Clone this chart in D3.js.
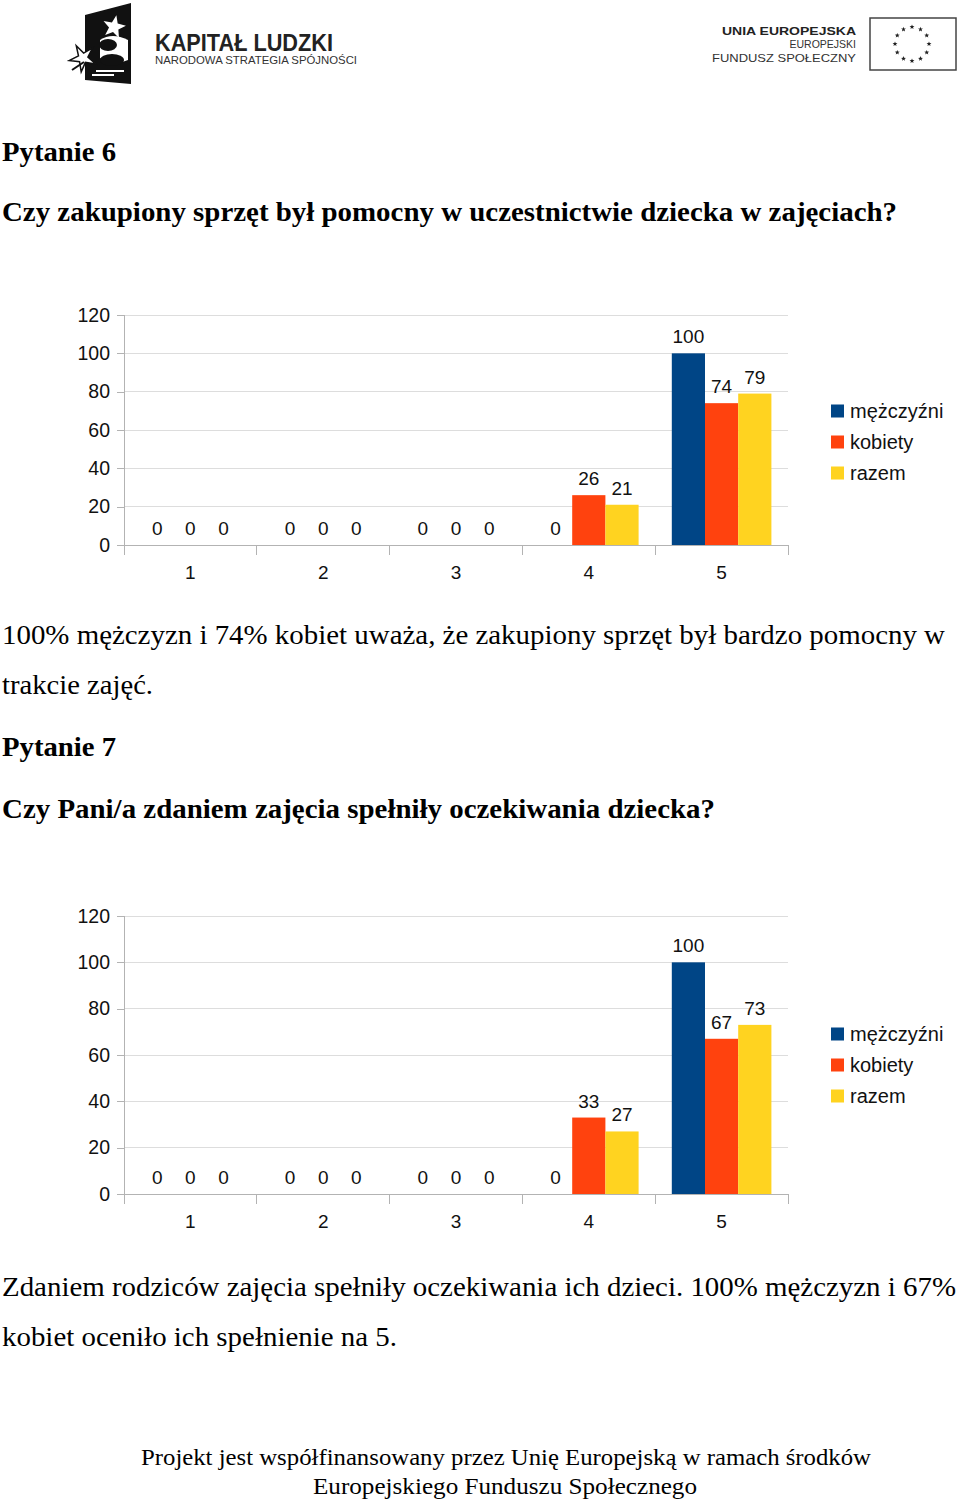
<!DOCTYPE html>
<html><head><meta charset="utf-8">
<script src="https://cdn.jsdelivr.net/npm/d3@7"></script>
<style>
html,body{margin:0;padding:0;background:#fff;}
svg{display:block;}
</style></head>
<body>
<svg id="page" width="960" height="1500"></svg>
<script>
// ---- data ----
const categories = ["1", "2", "3", "4", "5"];
const seriesNames = ["mężczyźni", "kobiety", "razem"];
const seriesColors = ["#004586", "#ff420e", "#ffd320"];
const yTicks = [0, 20, 40, 60, 80, 100, 120];

const q6Men   = [0, 0, 0, 0, 100];
const q6Women = [0, 0, 0, 26, 74];
const q6Total = [0, 0, 0, 21, 79];

const q7Men   = [0, 0, 0, 0, 100];
const q7Women = [0, 0, 0, 33, 67];
const q7Total = [0, 0, 0, 27, 73];

const texts = {
  q6title: "Pytanie 6",
  q6question: "Czy zakupiony sprzęt był pomocny w uczestnictwie dziecka w zajęciach?",
  q6body1: "100% mężczyzn i 74% kobiet uważa, że zakupiony sprzęt był bardzo pomocny w",
  q6body2: "trakcie zajęć.",
  q7title: "Pytanie 7",
  q7question: "Czy Pani/a zdaniem zajęcia spełniły oczekiwania dziecka?",
  q7body1: "Zdaniem rodziców zajęcia spełniły oczekiwania ich dzieci. 100% mężczyzn i 67%",
  q7body2: "kobiet oceniło ich spełnienie na 5.",
  foot1: "Projekt jest współfinansowany przez Unię Europejską w ramach środków",
  foot2: "Europejskiego Funduszu  Społecznego"
};

const svg = d3.select("#page");
const SERIF = "'Liberation Serif', 'Times New Roman', serif";
const SANS = "'Liberation Sans', Arial, sans-serif";

// ---- header logos ----
const logo = svg.append("g");
logo.append("path").attr("d", "M85,15 L131,3 L131,84 L85,80 Z").attr("fill", "#111");
function starPath(cx, cy, R, r, rot) {
  const pts = [];
  for (let i = 0; i < 10; i++) {
    const a = rot + i * Math.PI / 5;
    const rr = i % 2 === 0 ? R : r;
    pts.push([cx + rr * Math.sin(a), cy - rr * Math.cos(a)]);
  }
  return "M" + pts.map(p => p.join(",")).join("L") + "Z";
}
logo.append("path").attr("d", starPath(114, 27, 12, 5, 0.2)).attr("fill", "#fff");
logo.append("path").attr("d", "M100,40 Q112,32 128,40 L128,60 Q115,66 100,58 Z").attr("fill", "#fff");
logo.append("ellipse").attr("cx", 108).attr("cy", 45).attr("rx", 9).attr("ry", 6).attr("fill", "#111");
logo.append("ellipse").attr("cx", 112).attr("cy", 60).attr("rx", 12).attr("ry", 6).attr("fill", "#111");
logo.append("path").attr("d", starPath(83, 58, 14, 5, -0.5)).attr("fill", "#fff").attr("stroke", "#111").attr("stroke-width", 1.5);
logo.append("path").attr("d", "M72,70 L84,62").attr("stroke", "#111").attr("stroke-width", 2);
logo.append("rect").attr("x", 96).attr("y", 70).attr("width", 28).attr("height", 2).attr("fill", "#fff");
logo.append("rect").attr("x", 92).attr("y", 74).attr("width", 22).attr("height", 2).attr("fill", "#fff");
logo.append("text").attr("x", 155).attr("y", 51).text("KAPITAŁ LUDZKI")
  .attr("font-family", SANS).attr("font-weight", "bold").attr("font-size", 24)
  .attr("fill", "#222").attr("textLength", 178).attr("lengthAdjust", "spacingAndGlyphs");
logo.append("text").attr("x", 155).attr("y", 64).text("NARODOWA STRATEGIA SPÓJNOŚCI")
  .attr("font-family", SANS).attr("font-size", 11.5)
  .attr("fill", "#333").attr("textLength", 202).attr("lengthAdjust", "spacingAndGlyphs");
logo.append("text").attr("x", 856).attr("y", 35).attr("text-anchor", "end").text("UNIA EUROPEJSKA")
  .attr("font-family", SANS).attr("font-weight", "bold").attr("font-size", 11)
  .attr("fill", "#222").attr("textLength", 134).attr("lengthAdjust", "spacingAndGlyphs");
logo.append("text").attr("x", 856).attr("y", 48).attr("text-anchor", "end").text("EUROPEJSKI")
  .attr("font-family", SANS).attr("font-size", 10.5).attr("fill", "#333");
logo.append("text").attr("x", 856).attr("y", 62).attr("text-anchor", "end").text("FUNDUSZ SPOŁECZNY")
  .attr("font-family", SANS).attr("font-size", 10.5).attr("fill", "#333")
  .attr("textLength", 144).attr("lengthAdjust", "spacingAndGlyphs");
logo.append("rect").attr("x", 870).attr("y", 18).attr("width", 86).attr("height", 52)
  .attr("fill", "#fff").attr("stroke", "#444").attr("stroke-width", 1.5);
d3.range(12).forEach(i => {
  const a = i * Math.PI / 6;
  logo.append("path").attr("d", starPath(912 + 17 * Math.sin(a), 44 - 17 * Math.cos(a), 2.6, 1.1, 0)).attr("fill", "#222");
});

// ---- paragraphs ----
function txt(x, y, s, size, weight, anchor, len) {
  const t = svg.append("text").attr("x", x).attr("y", y).text(s)
    .attr("font-family", SERIF).attr("font-size", size)
    .attr("font-weight", weight || "normal").attr("text-anchor", anchor || "start")
    .attr("fill", "#000");
  if (len) t.attr("textLength", len).attr("lengthAdjust", "spacingAndGlyphs");
}
txt(2, 161, texts.q6title, 28, "bold", "start", 114);
txt(2, 221, texts.q6question, 27, "bold", "start", 895);
txt(2, 644, texts.q6body1, 27, "normal", "start", 943);
txt(2, 694, texts.q6body2, 27, "normal", "start", 151);
txt(2, 756, texts.q7title, 28, "bold", "start", 114);
txt(2, 818, texts.q7question, 27, "bold", "start", 713);
txt(2, 1296, texts.q7body1, 27, "normal", "start", 954);
txt(2, 1346, texts.q7body2, 27, "normal", "start", 395);
txt(506, 1465, texts.foot1, 23, "normal", "middle", 730);
txt(505, 1494, texts.foot2, 23, "normal", "middle", 384);

// ---- charts ----
function drawChart(top, bottom, seriesValues, legendY) {
  const left = 124, right = 788;
  const g = svg.append("g");
  const x0 = d3.scaleBand().domain(categories).range([left, right]).paddingInner(0).paddingOuter(0);
  const x1 = d3.scaleBand().domain(seriesNames).range([0, x0.bandwidth()]).paddingOuter(0.5).paddingInner(0);
  const y = d3.scaleLinear().domain([0, 120]).range([bottom, top]);

  g.append("g").selectAll("line").data(yTicks).join("line")
    .attr("x1", left).attr("x2", right).attr("y1", d => y(d)).attr("y2", d => y(d))
    .attr("stroke", d => d === 0 ? "#b3b3b3" : "#dddddd").attr("stroke-width", 1)
    .attr("shape-rendering", "crispEdges");

  const yAxis = d3.axisLeft(y).tickValues(yTicks).tickSize(7).tickPadding(7);
  const ya = g.append("g").attr("transform", `translate(${left},0)`).call(yAxis);
  ya.select(".domain").attr("stroke", "#b3b3b3").attr("d", `M0,${top}V${bottom + 10}`);
  ya.selectAll(".tick line").attr("stroke", "#b3b3b3");
  ya.selectAll(".tick text").attr("font-family", SANS).attr("font-size", 19.5).attr("fill", "#111");
  ya.attr("shape-rendering", "crispEdges");

  const bounds = categories.map(c => x0(c)).concat([right]);
  g.append("g").selectAll("line").data(bounds.slice(1)).join("line")
    .attr("x1", d => d).attr("x2", d => d).attr("y1", bottom).attr("y2", bottom + 10)
    .attr("stroke", "#b3b3b3").attr("shape-rendering", "crispEdges");
  g.append("g").selectAll("text").data(categories).join("text")
    .attr("x", d => x0(d) + x0.bandwidth() / 2).attr("y", bottom + 34)
    .attr("text-anchor", "middle").attr("font-family", SANS).attr("font-size", 19).attr("fill", "#111")
    .text(d => d);

  const flat = [];
  categories.forEach((c, ci) => seriesNames.forEach((s, si) => flat.push({ c, s, si, v: seriesValues[si][ci] })));
  g.append("g").selectAll("rect").data(flat).join("rect")
    .attr("x", d => x0(d.c) + x1(d.s)).attr("width", x1.bandwidth())
    .attr("y", d => y(d.v)).attr("height", d => y(0) - y(d.v))
    .attr("fill", d => seriesColors[d.si]);
  g.append("g").selectAll("text").data(flat).join("text")
    .attr("x", d => x0(d.c) + x1(d.s) + x1.bandwidth() / 2).attr("y", d => y(d.v) - 10)
    .attr("text-anchor", "middle").attr("font-family", SANS).attr("font-size", 19).attr("fill", "#111")
    .text(d => d.v);

  const lg = g.append("g");
  seriesNames.forEach((s, i) => {
    const cy = legendY + i * 31;
    lg.append("rect").attr("x", 831).attr("y", cy - 6.5).attr("width", 13).attr("height", 13).attr("fill", seriesColors[i]);
    lg.append("text").attr("x", 850).attr("y", cy + 7).text(s)
      .attr("font-family", SANS).attr("font-size", 20).attr("fill", "#111");
  });
}

drawChart(315, 545, [q6Men, q6Women, q6Total], 411);
drawChart(916, 1194, [q7Men, q7Women, q7Total], 1034);
</script>
</body></html>
